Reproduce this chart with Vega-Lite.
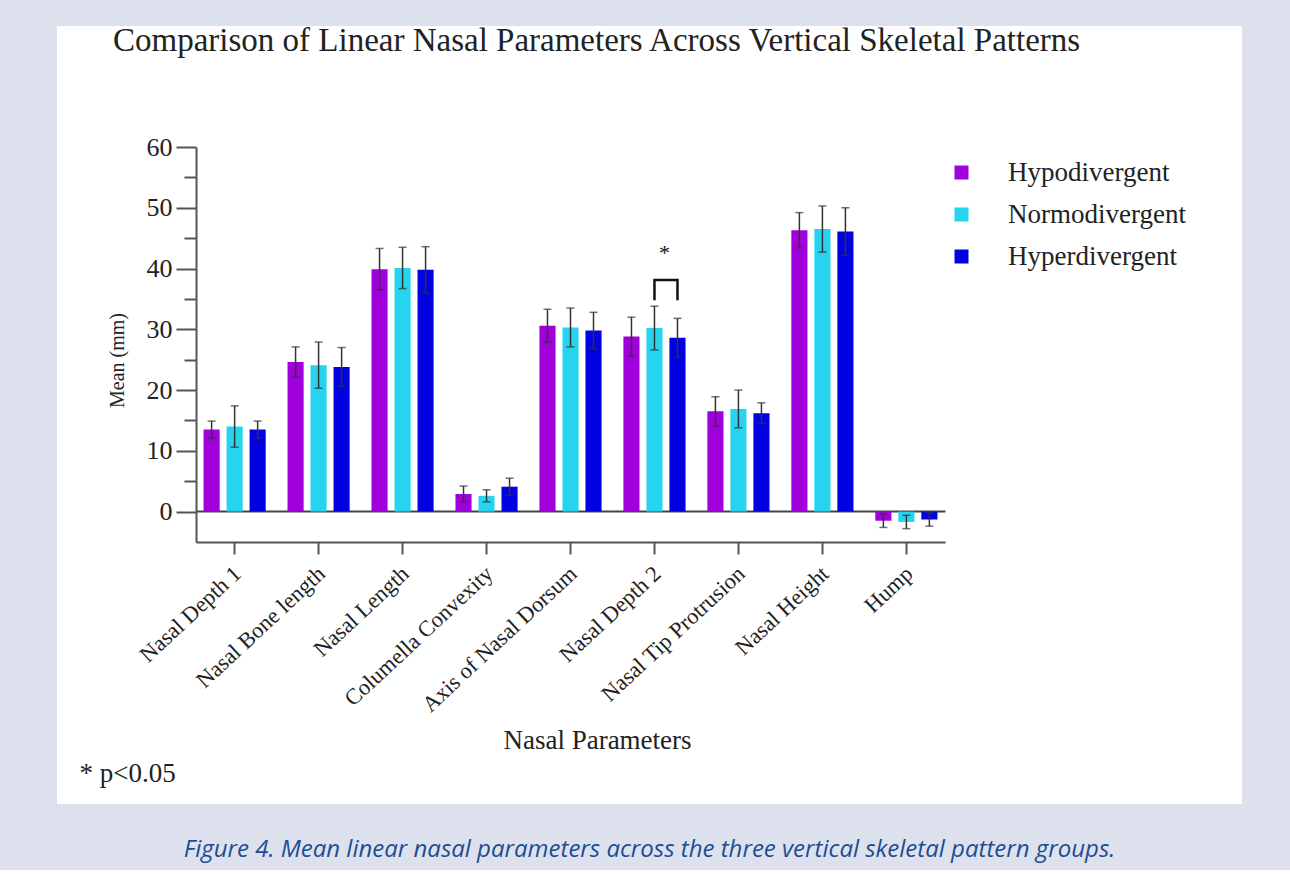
{
  "$schema": "https://vega.github.io/schema/vega-lite/v6.json",
  "background": "#dde1ee",
  "padding": {"left": 57, "top": 25, "right": 48, "bottom": 8},
  "title": {
    "text": "Figure 4. Mean linear nasal parameters across the three vertical skeletal pattern groups.",
    "orient": "bottom", "anchor": "middle", "frame": "group", "offset": 34,
    "font": "Open Sans", "fontStyle": "italic", "fontWeight": "normal", "fontSize": 24, "color": "#1e4d91"
  },
  "datasets": {
    "bars": [
      {"param": "Nasal Depth 1", "group": "Hypodivergent", "mean": 13.5, "lo": 12.1, "hi": 14.9},
      {"param": "Nasal Depth 1", "group": "Normodivergent", "mean": 14.0, "lo": 10.6, "hi": 17.4},
      {"param": "Nasal Depth 1", "group": "Hyperdivergent", "mean": 13.5, "lo": 12.1, "hi": 14.9},
      {"param": "Nasal Bone length", "group": "Hypodivergent", "mean": 24.6, "lo": 22.1, "hi": 27.1},
      {"param": "Nasal Bone length", "group": "Normodivergent", "mean": 24.1, "lo": 20.3, "hi": 27.9},
      {"param": "Nasal Bone length", "group": "Hyperdivergent", "mean": 23.8, "lo": 20.6, "hi": 27.0},
      {"param": "Nasal Length", "group": "Hypodivergent", "mean": 39.9, "lo": 36.5, "hi": 43.3},
      {"param": "Nasal Length", "group": "Normodivergent", "mean": 40.1, "lo": 36.7, "hi": 43.5},
      {"param": "Nasal Length", "group": "Hyperdivergent", "mean": 39.8, "lo": 36.0, "hi": 43.6},
      {"param": "Columella Convexity", "group": "Hypodivergent", "mean": 2.9, "lo": 1.6, "hi": 4.2},
      {"param": "Columella Convexity", "group": "Normodivergent", "mean": 2.6, "lo": 1.6, "hi": 3.6},
      {"param": "Columella Convexity", "group": "Hyperdivergent", "mean": 4.1, "lo": 2.7, "hi": 5.5},
      {"param": "Axis of Nasal Dorsum", "group": "Hypodivergent", "mean": 30.6, "lo": 27.9, "hi": 33.3},
      {"param": "Axis of Nasal Dorsum", "group": "Normodivergent", "mean": 30.3, "lo": 27.1, "hi": 33.5},
      {"param": "Axis of Nasal Dorsum", "group": "Hyperdivergent", "mean": 29.8, "lo": 26.8, "hi": 32.8},
      {"param": "Nasal Depth 2", "group": "Hypodivergent", "mean": 28.8, "lo": 25.6, "hi": 32.0},
      {"param": "Nasal Depth 2", "group": "Normodivergent", "mean": 30.2, "lo": 26.6, "hi": 33.8},
      {"param": "Nasal Depth 2", "group": "Hyperdivergent", "mean": 28.6, "lo": 25.4, "hi": 31.8},
      {"param": "Nasal Tip Protrusion", "group": "Hypodivergent", "mean": 16.5, "lo": 14.1, "hi": 18.9},
      {"param": "Nasal Tip Protrusion", "group": "Normodivergent", "mean": 16.9, "lo": 13.8, "hi": 20.0},
      {"param": "Nasal Tip Protrusion", "group": "Hyperdivergent", "mean": 16.2, "lo": 14.5, "hi": 17.9},
      {"param": "Nasal Height", "group": "Hypodivergent", "mean": 46.3, "lo": 43.4, "hi": 49.2},
      {"param": "Nasal Height", "group": "Normodivergent", "mean": 46.5, "lo": 42.7, "hi": 50.3},
      {"param": "Nasal Height", "group": "Hyperdivergent", "mean": 46.1, "lo": 42.2, "hi": 50.0},
      {"param": "Hump", "group": "Hypodivergent", "mean": -1.5, "lo": -2.6, "hi": -0.4},
      {"param": "Hump", "group": "Normodivergent", "mean": -1.7, "lo": -2.8, "hi": -0.6},
      {"param": "Hump", "group": "Hyperdivergent", "mean": -1.3, "lo": -2.4, "hi": -0.2}
    ],
    "bracket": [
      {"param": "Nasal Depth 2", "group": "Normodivergent", "y": 34.8, "ord": 1},
      {"param": "Nasal Depth 2", "group": "Normodivergent", "y": 38.1, "ord": 2},
      {"param": "Nasal Depth 2", "group": "Hyperdivergent", "y": 38.1, "ord": 3},
      {"param": "Nasal Depth 2", "group": "Hyperdivergent", "y": 34.8, "ord": 4}
    ],
    "star": [
      {"param": "Nasal Depth 2", "group": "Normodivergent", "y": 42.6, "label": "*"}
    ]
  },
  "vconcat": [
    {
      "width": 1185,
      "height": 778,
      "title": {
        "text": "Comparison of Linear Nasal Parameters Across Vertical Skeletal Patterns",
        "anchor": "start", "frame": "group", "dx": 56, "offset": -32,
        "font": "Liberation Serif", "fontSize": 33, "fontWeight": "normal", "color": "#222222"
      },
      "layer": [
        {
          "data": {"name": "bars"},
          "mark": {"type": "bar"},
          "encoding": {
            "x": {
              "field": "param", "type": "nominal",
              "scale": {
                "domain": ["Nasal Depth 1", "Nasal Bone length", "Nasal Length", "Columella Convexity", "Axis of Nasal Dorsum", "Nasal Depth 2", "Nasal Tip Protrusion", "Nasal Height", "Hump"],
                "range": [139, 888], "paddingInner": 0.26, "paddingOuter": 0.09
              },
              "axis": {
                "orient": "bottom", "offset": -262,
                "title": "Nasal Parameters", "titleFontSize": 27, "titleX": 540, "titleY": 206,
                "titleBaseline": "alphabetic", "titleAlign": "center",
                "labelAngle": -43, "labelAlign": "right", "labelBaseline": "middle", "labelLimit": 0,
                "labelFontSize": 22.5, "labelPadding": 16, "labelOffset": 3, "tickSize": 12, "tickWidth": 2,
                "domainWidth": 2
              }
            },
            "xOffset": {
              "field": "group", "type": "nominal",
              "scale": {"domain": ["Hypodivergent", "Normodivergent", "Hyperdivergent"], "paddingInner": 0.3, "paddingOuter": 0}
            },
            "y": {
              "field": "mean", "type": "quantitative",
              "scale": {"domain": [-5, 60], "range": [516, 121], "nice": false, "zero": false},
              "axis": {
                "orient": "left", "offset": -139,
                "values": [0, 10, 20, 30, 40, 50, 60],
                "tickSize": 20, "tickWidth": 2, "domainWidth": 2,
                "labelFontSize": 26, "labelPadding": 4,
                "title": "Mean (mm)", "titleFontSize": 20, "titleX": -79, "titleY": 334,
                "titleBaseline": "middle", "titleAlign": "center", "titleAngle": -90
              }
            },
            "color": {
              "field": "group", "type": "nominal",
              "scale": {"domain": ["Hypodivergent", "Normodivergent", "Hyperdivergent"], "range": ["#a000dc", "#26d4ef", "#0202e0"]},
              "legend": {
                "title": null, "orient": "none", "legendX": 891, "legendY": 133,
                "symbolType": "square", "symbolSize": 196, "symbolStrokeWidth": 0,
                "labelFont": "Liberation Serif", "labelFontSize": 27, "labelColor": "#222222",
                "labelOffset": 33, "rowPadding": 14, "labelLimit": 0
              }
            }
          }
        },
        {
          "data": {"name": "bars"},
          "mark": {"type": "rule", "color": "#333333", "strokeWidth": 1.5},
          "encoding": {
            "x": {
              "field": "param", "type": "nominal",
              "axis": {
                "orient": "top", "offset": -485, "ticks": false, "labels": false,
                "domainWidth": 2, "domainColor": "#444444",
                "title": "* p<0.05", "titleX": 22, "titleY": 262, "titleAlign": "left",
                "titleBaseline": "middle", "titleAngle": 0, "titleFontSize": 27
              }
            },
            "xOffset": {"field": "group", "type": "nominal"},
            "y": {"field": "lo", "type": "quantitative", "axis": null},
            "y2": {"field": "hi"}
          }
        },
        {
          "data": {"name": "bars"},
          "mark": {"type": "tick", "size": 8, "thickness": 1.5, "color": "#333333"},
          "encoding": {
            "x": {"field": "param", "type": "nominal", "axis": null},
            "xOffset": {"field": "group", "type": "nominal"},
            "y": {
              "field": "lo", "type": "quantitative",
              "axis": {
                "orient": "right", "offset": -1046, "values": [5, 15, 25, 35, 45, 55],
                "labels": false, "domain": false, "title": null,
                "tickSize": -12, "tickWidth": 2
              }
            }
          }
        },
        {
          "data": {"name": "bars"},
          "mark": {"type": "tick", "size": 8, "thickness": 1.5, "color": "#333333"},
          "encoding": {
            "x": {"field": "param", "type": "nominal", "axis": null},
            "xOffset": {"field": "group", "type": "nominal"},
            "y": {"field": "hi", "type": "quantitative", "axis": null}
          }
        },
        {
          "data": {"name": "bracket"},
          "mark": {"type": "line", "color": "#111111", "strokeWidth": 2.5},
          "encoding": {
            "x": {"field": "param", "type": "nominal", "axis": null},
            "xOffset": {"field": "group", "type": "nominal"},
            "y": {"field": "y", "type": "quantitative", "axis": null},
            "order": {"field": "ord", "type": "quantitative"}
          }
        },
        {
          "data": {"name": "star"},
          "mark": {"type": "text", "font": "Liberation Serif", "fontSize": 22, "color": "#111111", "dx": 10, "baseline": "middle"},
          "encoding": {
            "x": {"field": "param", "type": "nominal", "axis": null},
            "xOffset": {"field": "group", "type": "nominal"},
            "y": {"field": "y", "type": "quantitative", "axis": null},
            "text": {"field": "label"}
          }
        }
      ]
    }
  ],
  "config": {
    "font": "Liberation Serif",
    "view": {"fill": "#ffffff", "stroke": null},
    "axis": {
      "labelFont": "Liberation Serif", "titleFont": "Liberation Serif",
      "labelColor": "#222222", "titleColor": "#222222", "titleFontWeight": "normal",
      "domainColor": "#555555", "tickColor": "#555555", "grid": false
    }
  }
}
